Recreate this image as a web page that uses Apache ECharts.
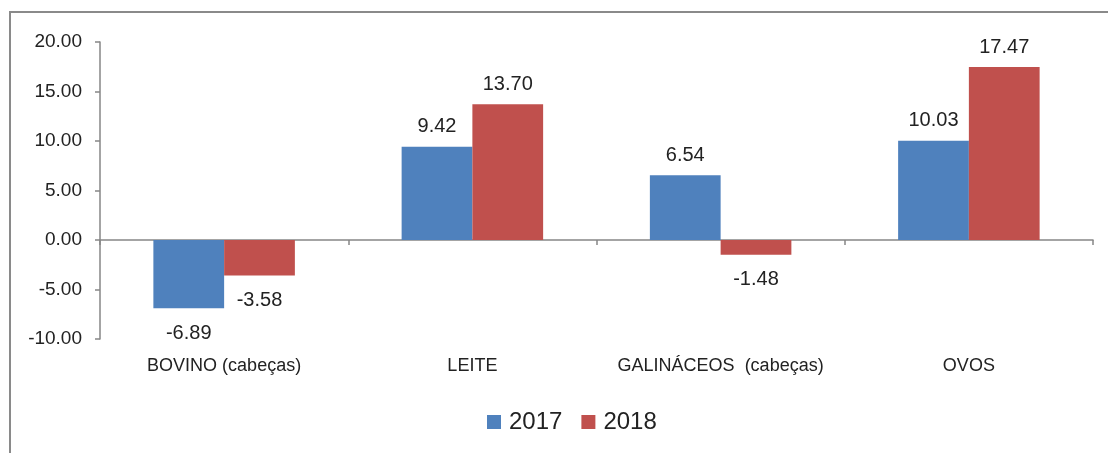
<!DOCTYPE html>
<html>
<head>
<meta charset="utf-8">
<script src="https://cdn.jsdelivr.net/npm/echarts@6/dist/echarts.min.js"></script>
<style>
html, body { margin: 0; padding: 0; background: #fff; }
#chart { width: 1108px; height: 453px; }
</style>
</head>
<body>
<div id="chart"></div>
<script>
var categories = ['BOVINO (cabeças)', 'LEITE', 'GALINÁCEOS  (cabeças)', 'OVOS']
var values2017 = [-6.89, 9.42, 6.54, 10.03]
var values2018 = [-3.58, 13.70, -1.48, 17.47]

var font = '"Liberation Sans", Arial, sans-serif'

// negative bars get their label underneath
function withLabels (arr) {
  return arr.map(function (v) {
    return {
      value: v,
      label: v < 0 ? { position: 'bottom', distance: 15 } : { position: 'top', distance: 10 }
    }
  })
}

var chart = echarts.init(document.getElementById('chart'))
var labelStyle = {
  show: true,
  color: '#222',
  fontSize: 20,
  fontFamily: font,
  formatter: function (p) { return p.value.toFixed(2) }
}

var option = {
  animation: false,
  textStyle: { fontFamily: font },
  graphic: [{
    type: 'rect',
    shape: { x: 10, y: 12, width: 1200, height: 500 },
    style: { fill: 'none', stroke: '#8a8a8a', lineWidth: 2 },
    silent: true
  }],
  legend: {
    data: ['2017', '2018'],
    top: 405,
    left: 482,
    itemWidth: 14,
    itemHeight: 14,
    itemGap: 19,
    icon: 'rect',
    textStyle: { fontSize: 24, color: '#222', fontFamily: font, padding: [0, 0, 0, 3] }
  },
  grid: { left: 100, right: 15, top: 42, bottom: 114 },
  xAxis: [{
    type: 'category',
    data: categories,
    position: 'bottom',
    axisLine: { onZero: true, lineStyle: { color: '#868686', width: 1.5 } },
    axisTick: { show: true, length: 5, lineStyle: { color: '#868686', width: 1.5 } },
    axisLabel: { show: false }
  }, {
    type: 'category',
    data: categories,
    position: 'bottom',
    axisLine: { show: false, onZero: false },
    axisTick: { show: false },
    axisLabel: { show: true, interval: 0, color: '#222', fontSize: 18, fontFamily: font, margin: 18 }
  }],
  yAxis: {
    type: 'value',
    min: -10,
    max: 20,
    interval: 5,
    axisLine: { show: true, lineStyle: { color: '#868686', width: 1.5 } },
    axisTick: { show: true, length: 5, lineStyle: { color: '#868686', width: 1.5 } },
    splitLine: { show: false },
    axisLabel: {
      color: '#222', fontSize: 19, fontFamily: font, margin: 18,
      formatter: function (v) { return v.toFixed(2) }
    }
  },
  series: [
    {
      name: '2017',
      type: 'bar',
      data: withLabels(values2017),
      barGap: '0%',
      barCategoryGap: '43%',
      itemStyle: { color: '#4F81BD' },
      label: labelStyle
    },
    {
      name: '2018',
      type: 'bar',
      data: withLabels(values2018),
      barGap: '0%',
      barCategoryGap: '43%',
      itemStyle: { color: '#C0504D' },
      label: labelStyle
    }
  ]
}
chart.setOption(option)
</script>
</body>
</html>
